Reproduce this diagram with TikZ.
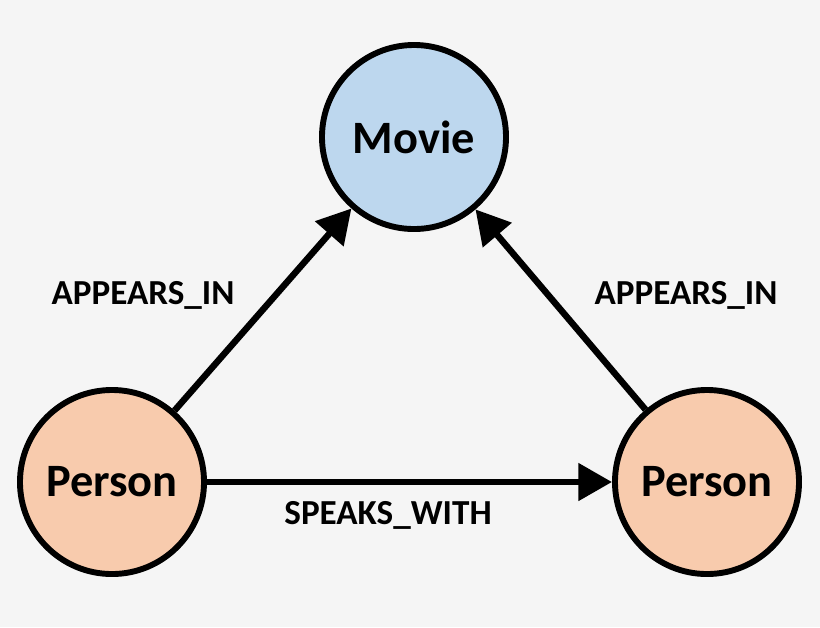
\documentclass[tikz,border=0pt]{standalone}
\usepackage{fontspec}
\setmainfont{Carlito}
\usetikzlibrary{arrows.meta}
\definecolor{bg}{HTML}{F5F5F5}
\definecolor{mov}{HTML}{BDD7EE}
\definecolor{per}{HTML}{F8CBAD}
\begin{document}
\begin{tikzpicture}[x=0.025cm,y=-0.025cm,
  nd/.style={circle,draw=black,line width=4.2pt,minimum size=4.6cm,inner sep=0pt,font=\fontsize{33}{36}\selectfont\bfseries},
  ed/.style={line width=4.6pt,-{Triangle[length=24pt,width=26pt]}},
  lb/.style={font=\fontsize{25}{28}\selectfont\bfseries}]
\fill[bg] (0,0) rectangle (820,627);
\useasboundingbox (0,0) rectangle (820,627);
\node[nd,fill=mov] (m) at (414,137) {Movie};
\node[nd,fill=per] (pl) at (112,482) {Person};
\node[nd,fill=per] (pr) at (707,482) {Person};
\draw[ed] (pl) -- (m);
\draw[ed] (pr) -- (m);
\draw[ed] (pl) -- (pr);
\node[lb] (l1) at (143,295) {APPEARS\_IN};
\node[lb] (l2) at (686,295) {APPEARS\_IN};
\node[lb] (l3) at (388,515) {SPEAKS\_WITH};
\end{tikzpicture}
\end{document}
